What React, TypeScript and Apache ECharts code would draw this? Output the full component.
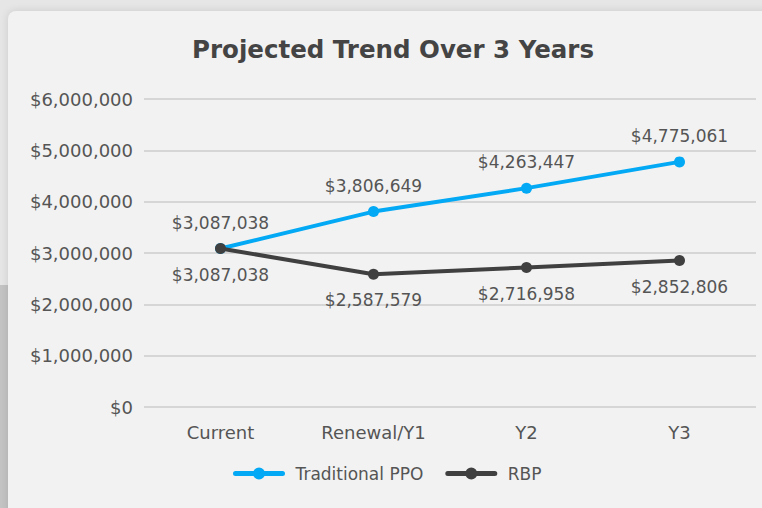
import React, { useEffect, useRef } from "react";
import * as echarts from "echarts";

const categories = ["Current", "Renewal/Y1", "Y2", "Y3"];
const traditionalPPO = [3087038, 3806649, 4263447, 4775061];
const rbp = [3087038, 2587579, 2716958, 2852806];
const yTicks = { min: 0, max: 6000000, interval: 1000000 };

const fmt = (v: number) => "$" + v.toLocaleString("en-US");

const legendIcon =
  "path://M2.5,3.5 L49.5,3.5 A2.5,2.5 0 0 1 49.5,8.5 L2.5,8.5 A2.5,2.5 0 0 1 2.5,3.5 Z M20,6 A6,6 0 1 1 32,6 A6,6 0 1 1 20,6 Z";

export default function App() {
  const ref = useRef<HTMLDivElement>(null);
  useEffect(() => {
    document.body.style.margin = "0";
    const chart = echarts.init(ref.current!, undefined, { renderer: "svg" });
    const font = "'DejaVu Sans', sans-serif";
    const txt = "#555";
    chart.setOption({
      animation: false,
      title: {
        text: "Projected Trend Over 3 Years",
        left: 388,
        textAlign: "center",
        top: 32,
        textStyle: { fontFamily: "'DejaVu Sans', sans-serif", fontWeight: 700, fontSize: 24.5, color: "#444" },
      },
      legend: {
        bottom: 21,
        left: 228,
        itemWidth: 53,
        itemHeight: 12,
        itemGap: 22,
        textStyle: { fontFamily: font, fontSize: 17, color: txt, padding: [0, 0, 0, 5] },
        data: [
          { name: "Traditional PPO", icon: legendIcon },
          { name: "RBP", icon: legendIcon },
        ],
      },
      grid: { left: 144, right: 6, top: 99, bottom: 101, containLabel: false },
      xAxis: {
        type: "category",
        data: categories,
        axisLine: { show: false },
        axisTick: { show: false },
        axisLabel: { margin: 16, fontFamily: font, fontSize: 18, color: txt },
      },
      yAxis: {
        type: "value",
        min: yTicks.min,
        max: yTicks.max,
        interval: yTicks.interval,
        axisLabel: { formatter: (v: number) => fmt(v), fontFamily: font, fontSize: 18, color: txt, margin: 11 },
        splitLine: { lineStyle: { color: "#d6d6d6", width: 2 } },
      },
      series: [
        {
          name: "Traditional PPO",
          type: "line",
          data: traditionalPPO,
          symbol: "circle",
          symbolSize: 11,
          lineStyle: { width: 4, color: "#03a9f4" },
          itemStyle: { color: "#03a9f4" },
          label: { show: true, position: "top", distance: 12, formatter: (p: any) => fmt(p.value), fontFamily: font, fontSize: 17, color: txt },
          z: 3,
        },
        {
          name: "RBP",
          type: "line",
          data: rbp,
          symbol: "circle",
          symbolSize: 11,
          lineStyle: { width: 4, color: "#404040" },
          itemStyle: { color: "#404040" },
          label: { show: true, position: "bottom", distance: 12, formatter: (p: any) => fmt(p.value), fontFamily: font, fontSize: 17, color: txt },
          z: 4,
        },
      ],
    });
    return () => chart.dispose();
  }, []);
  return (
    <div style={{ position: "fixed", left: 0, top: 0, width: 762, height: 508, background: "#e6e6e6", overflow: "hidden" }}>
      <div style={{ position: "absolute", left: 0, top: 285, width: 8, height: 223, background: "#c4c4c4" }} />
      <div
        style={{
          position: "absolute",
          left: 8,
          top: 11,
          width: 780,
          height: 520,
          background: "#f2f2f2",
          borderRadius: 8,
          boxShadow: "0 0 8px rgba(0,0,0,0.12)",
        }}
      />
      <div ref={ref} style={{ position: "absolute", left: 0, top: 0, width: 762, height: 508 }} />
    </div>
  );
}
